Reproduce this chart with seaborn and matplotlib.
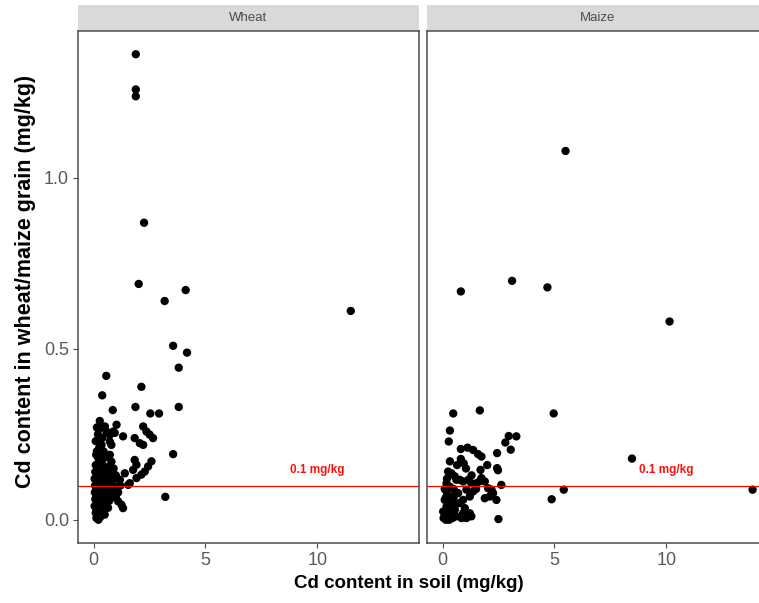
import matplotlib
matplotlib.use("Agg")
import matplotlib.pyplot as plt
import seaborn as sns
import pandas as pd
from matplotlib.patches import Rectangle

# ---------------- data ----------------
wheat_soil = [
    1.89, 1.89, 1.89, 2.26, 2.02, 3.18, 4.12, 11.5,
    3.56, 4.18, 3.81, 0.57, 2.14, 0.39, 3.81, 1.875, 0.86, 2.54, 2.93, 3.56, 3.21,
    0.28, 0.28, 0.58, 0.88, 1.03, 0.51, 0.73, 0.95, 1.32, 2.22, 2.37, 2.51, 2.66,
    1.84, 2.07, 2.22, 0.28, 0.36, 0.73, 0.80,
    0.36, 0.73, 0.80, 0.28, 1.84, 1.92, 1.77, 2.59, 2.44, 2.29, 2.14, 1.92, 1.62,
    1.40, 1.18, 1.55, 1.10, 1.25, 1.32, 1.00,
    0.12, 0.22, 0.45, 0.60,
    0.10, 0.18, 0.30, 0.42, 0.55, 0.68, 0.90,
    0.08, 0.20, 0.33, 0.48, 0.62, 0.75, 1.00,
    0.05, 0.15, 0.25, 0.38, 0.50, 0.64, 0.82, 0.95,
    0.07, 0.14, 0.22, 0.30, 0.40, 0.52, 0.60, 0.72, 0.85, 1.05, 1.20,
    0.06, 0.12, 0.20, 0.28, 0.36, 0.45, 0.55, 0.66, 0.78, 0.90, 1.10,
    0.08, 0.16, 0.24, 0.33, 0.42, 0.50, 0.60, 0.70, 0.80,
    0.05, 0.13, 0.20, 0.28, 0.37, 0.45, 0.55, 0.65,
    0.10, 0.17, 0.25, 0.32, 0.40, 0.50,
    0.13, 0.22, 0.30,
    0.15, 0.25, 0.10, 0.45, 0.20, 0.15, 0.40,
]
wheat_grain = [
    1.362, 1.259, 1.239, 0.869, 0.690, 0.640, 0.672, 0.611,
    0.509, 0.489, 0.445, 0.421, 0.389, 0.364, 0.330, 0.330, 0.321, 0.311, 0.311, 0.192, 0.067,
    0.289, 0.268, 0.258, 0.258, 0.278, 0.273, 0.249, 0.254, 0.244, 0.273, 0.258, 0.249, 0.239,
    0.239, 0.224, 0.219, 0.224, 0.219, 0.229, 0.219,
    0.185, 0.190, 0.170, 0.166, 0.175, 0.161, 0.146, 0.171, 0.156, 0.141, 0.132, 0.122, 0.107,
    0.136, 0.117, 0.102, 0.054, 0.044, 0.034, 0.065,
    0.190, 0.180, 0.180, 0.185,
    0.160, 0.150, 0.155, 0.160, 0.150, 0.155, 0.150,
    0.140, 0.130, 0.135, 0.140, 0.130, 0.140, 0.130,
    0.120, 0.110, 0.120, 0.115, 0.120, 0.110, 0.115, 0.120,
    0.100, 0.090, 0.100, 0.095, 0.100, 0.090, 0.100, 0.095, 0.100, 0.095, 0.100,
    0.080, 0.070, 0.085, 0.075, 0.080, 0.070, 0.080, 0.075, 0.085, 0.075, 0.080,
    0.060, 0.050, 0.065, 0.055, 0.060, 0.050, 0.060, 0.055, 0.065,
    0.040, 0.030, 0.045, 0.035, 0.040, 0.030, 0.040, 0.035,
    0.020, 0.010, 0.020, 0.015, 0.020, 0.015,
    0.005, 0.000, 0.008,
    0.200, 0.210, 0.230, 0.200, 0.250, 0.270, 0.240,
]

maize_soil = [
    5.50, 0.82, 3.11, 4.69, 10.15, 0.48, 1.67, 4.97, 8.47, 5.42, 4.88, 13.86, 2.50,
    0.33, 0.28, 0.82, 1.12, 1.37, 1.59, 1.74, 0.82, 2.96, 3.30, 2.81, 3.05, 2.44,
    2.44, 2.48, 2.63, 1.70, 1.74, 1.67, 0.33,
    0.25, 0.40, 0.55, 0.62, 0.18, 0.33, 0.77, 0.92, 1.15, 1.29, 1.52, 1.89, 2.04,
    2.19, 2.26, 2.11, 1.89, 2.41, 1.37, 1.22, 1.07, 0.92, 0.77, 0.997, 1.22, 1.29,
    1.07, 0.85, 0.62, 0.40, 0.25, 0.10, 0.18, 0.25, 0.40, 0.18, 0.10, 0.70, 0.33,
    0.03, 0.55, 0.92,
    0.10, 0.20, 0.50, 0.05, 0.15, 0.30, 0.45, 0.60, 0.35, 0.50, 0.15, 1.50, 1.30,
    1.05, 0.65, 0.95, 2.00,
]
maize_grain = [
    1.079, 0.668, 0.699, 0.680, 0.580, 0.311, 0.320, 0.311, 0.179, 0.088, 0.060, 0.088, 0.002,
    0.261, 0.229, 0.207, 0.211, 0.204, 0.192, 0.185, 0.178, 0.245, 0.244, 0.226, 0.205, 0.195,
    0.151, 0.145, 0.102, 0.146, 0.122, 0.113, 0.171,
    0.141, 0.136, 0.127, 0.117, 0.107, 0.097, 0.117, 0.112, 0.117, 0.107, 0.107, 0.112, 0.092,
    0.088, 0.078, 0.068, 0.063, 0.058, 0.083, 0.068, 0.088, 0.058, 0.049, 0.034, 0.019, 0.010,
    0.005, 0.005, 0.010, 0.015, 0.019, 0.010, 0.039, 0.058, 0.068, 0.083, 0.058, 0.078, 0.029,
    0.024, 0.029, 0.019,
    0.090, 0.120, 0.090, 0.005, 0.000, 0.000, 0.005, 0.045, 0.050, 0.065, 0.065, 0.090, 0.130,
    0.150, 0.160, 0.165, 0.160,
]

crops = ["Wheat", "Maize"]
x_ticks = [0, 5, 10]
y_ticks = [0.0, 0.5, 1.0]
threshold = 0.1
threshold_label = "0.1 mg/kg"
x_title = "Cd content in soil (mg/kg)"
y_title = "Cd content in wheat/maize grain (mg/kg)"

df = pd.concat([
    pd.DataFrame({"soil": wheat_soil, "grain": wheat_grain, "crop": "Wheat"}),
    pd.DataFrame({"soil": maize_soil, "grain": maize_grain, "crop": "Maize"}),
], ignore_index=True)

# ---------------- styling ----------------
sns.set_style("white")
plt.rcParams["font.family"] = ["Liberation Sans", "DejaVu Sans"]

W, H = 759, 603
fig = plt.figure(figsize=(W / 100, H / 100), dpi=100)

panel_left_px = [78, 427]
panel_w_px = 341
panel_top_px, panel_bot_px = 31, 543

xlim = (-0.693, 14.55)
ylim = (-0.068, 1.43)
edge_col = "#4D4D4D"
tick_col = "#5A5A5A"

for i, crop in enumerate(crops):
    l = panel_left_px[i] / W
    b = (H - panel_bot_px) / H
    w = panel_w_px / W
    h = (panel_bot_px - panel_top_px) / H
    ax = fig.add_axes([l, b, w, h])
    sub = df[df["crop"] == crop]
    sns.scatterplot(data=sub, x="soil", y="grain", ax=ax, color="black",
                    s=36, edgecolor="none", linewidth=0, legend=False)
    ax.axhline(threshold, color="#FF0000", lw=0.9, zorder=1)
    ax.text(10.0, 0.145, threshold_label, color="#FF1010", fontsize=8.5,
            fontweight="bold", ha="center", va="center")
    ax.set_xlim(*xlim)
    ax.set_ylim(*ylim)
    ax.set_xticks(x_ticks)
    ax.set_xticklabels([str(t) for t in x_ticks])
    ax.set_yticks(y_ticks)
    if i == 0:
        ax.set_yticklabels([f"{t:.1f}" for t in y_ticks])
    else:
        ax.set_yticklabels([])
        ax.tick_params(axis="y", length=0)
    ax.set_xlabel("")
    ax.set_ylabel("")
    for sp in ax.spines.values():
        sp.set_visible(True)
        sp.set_color(edge_col)
        sp.set_linewidth(1.1)
    ax.tick_params(axis="both", direction="out", length=3.5, width=0.8,
                   color=edge_col, labelcolor=tick_col, labelsize=13, pad=3)
    ax.tick_params(axis="x", bottom=True)
    if i == 0:
        ax.tick_params(axis="y", left=True)
    ax.grid(False)
    # facet strip
    strip = Rectangle((0, 1.0), 1, 0.051, transform=ax.transAxes,
                      facecolor="#D9D9D9", edgecolor="none", clip_on=False)
    ax.add_patch(strip)
    ax.text(0.5, 1.0255, crop, transform=ax.transAxes, ha="center", va="center",
            fontsize=9.5, color="#4D4D4D")

fig.text(409 / W, 1 - 583 / H, x_title, ha="center", va="center",
         fontsize=13.5, fontweight="bold", color="black")
fig.text(26 / W, 1 - 281 / H, y_title, ha="center", va="center",
         rotation=90, fontsize=15.5, fontweight="bold", color="black")

fig.savefig("out.png", dpi=100)
